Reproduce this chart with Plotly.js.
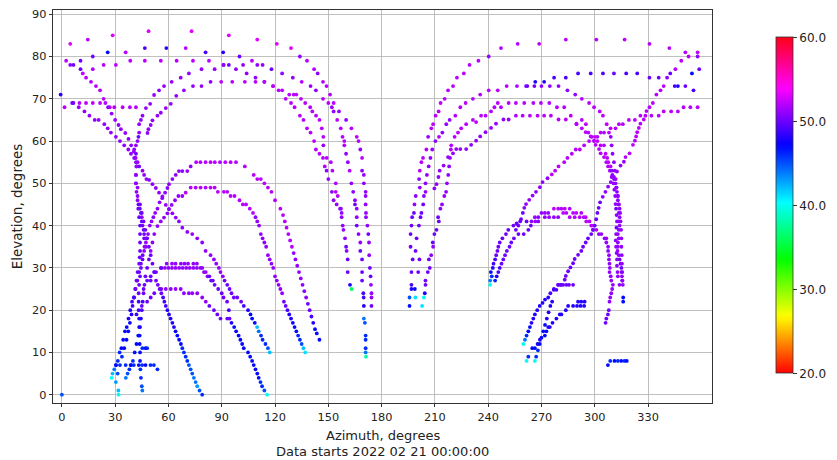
<!DOCTYPE html>
<html><head><meta charset="utf-8">
<script src="https://cdn.plot.ly/plotly-3.0.1.min.js"></script>
<style>html,body{margin:0;padding:0;background:#fff}#chart{width:837px;height:460px}</style>
</head><body><div id="chart"></div>
<script>
// Each point: [azimuth deg, elevation deg, SNR]
const tkTop = [[4.7,83,53],[14.6,84,52],[28.6,85,53],[48.8,86,53],[73,86,53],[17.4,80,50],[25.8,81,47],[35.9,81,52],[46.7,82,49],[58.8,82,48],[69.7,82,52],[80.9,81,49],[90.8,81,48],[94,85,53],[100,80,50],[-0.7,71,48],[0,0,45]];
const tk01 = [[2.4,79,52],[4.7,78,51],[6.5,78,50],[10.5,79,50],[17.4,77,52],[23.5,78,52],[30.4,78,52],[38.5,79,52],[46.7,79,52],[55.7,79,52],[64.6,79,52],[73.8,79,52],[82.8,79,52],[91,78,50],[94,78,50],[102,78,51],[107,79,52],[110,78,51],[113,78,51],[118,77,50],[124,76,51],[130,75,51],[135,74,52],[140,73,51],[143,72,51],[147,70,52],[150,69,52],[152,68,51],[153,67,51],[155,65,52],[157,63,52],[158,61,52],[159,60,52],[159,59,52],[160,57,51],[161,55,51],[162,53,52],[163,50,51],[164,48,51],[165,46,51],[165,45,50],[166,44,51],[166,42,51],[166,40,50],[167,38,51],[168,36,51],[168,34,50],[169,32,50],[169,29,50],[169,27,50],[169.7,24,49],[169.9,23,49],[170,21,48],[170,18,44],[170.6,17,45],[171,14,46],[171,13,46],[171,11,46],[171,10,44],[171.2,9,38]];
const tk02 = [[45.3,1,44],[45,2,45],[44.5,4,46],[44.2,6,46],[44,8,47],[44,10,47],[43.8,12,47],[43.8,14,47],[43.5,16,47],[43.5,18,48],[43.2,20,49],[43.2,22,49],[43.2,24,50],[43.5,26,50],[44,28,50],[44.5,30,50],[45.4,32,50],[46.3,34,51],[47.3,35,51],[47.3,36,51],[46.3,37,50],[46.3,38,50],[46,39,50],[45.4,40,50],[45,41,50],[45,42,51],[44.5,43,50],[43.9,44,50],[43.1,45,50],[42.6,47,51],[42.6,49,51],[41.7,50,51],[41.7,52,51],[42,54,50],[42.6,55,51],[41.3,56,51],[41.7,57,50],[40.7,58,51],[41.7,59,51],[42.6,60,51],[43.1,61,50],[43.5,62,51],[43.5,64,51],[44.5,65,51],[45.4,66,51],[47.3,67.8,51],[49.7,68.8,51],[51.9,70.9,51],[54.7,72,51],[57.5,73,51],[61.8,74,51],[66.9,75,51],[71.5,76,51],[78.6,77,51],[86,77,51],[91,78,51],[98,77,51],[104,76,51],[109,75,51],[114,74,50],[118.8,73,52],[122,72,52],[126,70,52],[129,69,52],[131,68,52],[134,66,52],[136,65,52],[138,63,52],[140,62,52],[142,60,52],[143,58,52],[145,57,52],[147,56,52],[148,54,52],[149,53,51],[150,51,51],[152,48,51],[153,46,51],[154.7,45,51],[156.6,44,51],[157.5,42,51],[158.1,40,51],[158.5,39,51],[159.4,37,51],[160,35,50],[160.3,34,51],[160.9,32,50],[160.9,29,50],[162.2,26,48],[163.1,25,36]];
const tk03 = [[110,84,53],[121,83,53],[129,82,53],[134,80,51],[138,79,52],[142,77,52],[144,76,51],[147,74,52],[149,73,52],[151,71,52],[153,69,52],[156,67,51],[160,65,51],[163,63,52],[166,61,52],[167,60,52],[168,58,51],[169,56,52],[169,53,51],[170,52,51],[170,50,51],[171,48,51],[171,47,51],[171,45,51],[171.2,43,51],[171.2,42,51],[172,40,51],[172.5,38,50],[172.9,36,51],[173,33,51],[173.4,30,50],[173.8,28,50],[174,26,51],[174.3,24,51],[174.3,23,51],[174.3,21,50]];
const tk04 = [[48.2,61.9,51],[48.7,62.8,51],[50,63.8,51],[51,64.9,51],[53.8,66,51],[55.7,66.7,51],[58.5,67.8,51],[61.3,68.8,51],[64.4,70.7,51],[68.7,72,51],[73.8,73,51],[78.6,73,51],[83.7,74,51],[89.7,74,52],[95.9,74,52],[103,74,52],[109,74,52],[114,74,52],[119,73,52],[124,72,52],[128,71,52],[130.5,71,52],[132,71,52],[134.6,70,52],[137,69,52],[139.8,68,52],[141,67,52],[143.1,66,52],[145,65,52],[146.3,63,52],[147.2,61,52],[147.2,59,51],[149.1,56,52],[151.4,55,52],[152.3,53,52],[154.2,50,52],[154.2,48,52],[155.3,47,52],[157.1,44,51],[157.5,43,51]];
const tk05 = [[9.5,68,51],[12.7,67,51],[15.5,66,51],[18.5,65,51],[20.7,65,51],[23.9,64,51],[25.8,63,51],[27.6,62,51],[30.4,61,51],[32.7,60,51],[35.1,59,51],[37.4,58,51],[38.9,57,51],[40.7,56,51],[41.7,55,51],[43.5,54,50],[45.4,53,51],[46.3,52,51],[47.6,51,51],[49.1,50.8,51],[51,49.8,51],[52.9,48.9,51],[54.7,47.8,51],[56.6,46.9,51],[58.5,44.9,51],[60.3,43.9,51],[62.2,42.9,51],[64.1,41.9,51],[65.9,41,51],[67.8,39.5,51],[70.6,38.5,51],[73.4,38,51],[76.2,37,51],[79,36,51],[80.9,34,51],[83.7,33,51],[85.6,32,51],[86.9,31,51],[88.4,30,51],[89.3,29,51],[90.6,28,51],[91.6,27,50],[93.1,26,50],[94.4,25,50],[95.5,24,50],[96.8,23,50],[98.7,23,50],[100.9,22,50],[102.4,21,49],[104.8,20,48],[106.2,19,47],[107.1,18,47],[108.6,17,47],[109.9,16,42],[110.8,15,44],[112.1,14,46],[113,13,46],[114.6,12,46],[116,11,45],[117,10,42]];
const tk06 = [[1.5,68,52],[5.8,69,50],[6.5,69,50],[9.9,69,52],[13.6,69,52],[17.4,69,52],[21.5,69,52],[24.5,69,52],[27,68,52],[29.5,68,52],[34.2,68,52],[38.3,68,52],[41.7,68,52]];
const tk07 = [[10.5,77,50],[11.8,76,52],[13.6,75,52],[16.4,74,52],[19.2,73,52],[21.5,72,52],[23.5,70,52],[26,68,51],[28,66.5,51],[30,65,51],[31.9,63.8,51],[33.2,62.8,51],[35.7,61.9,51],[37.5,60.5,51],[39,59,51],[40.5,57.5,51],[41.5,56,51],[42,54,51],[41.7,52,51],[41.7,50,51],[42,48,51],[42.6,46,51],[43,44,50],[43.5,42,50],[44,40,50],[44,38,50],[44,36,50],[44,34,50],[43.8,32.5,50],[43.5,31,50],[42.6,29,50],[42,27,50],[41.3,25,50],[40.7,23,50],[39.8,21,49],[39.2,19,48],[38.3,17,47],[37.4,15,47],[36.4,13,47],[35.1,11,47],[33.8,9,46],[32.7,7,46],[31.4,5,45],[30.4,3,43],[31.8,1,42],[31.9,0,40]];
const tk09 = [[28,4,40],[28.5,5,42],[29.5,6,44],[30.5,7,46],[31.5,8,46],[32.5,10,46],[33.5,11,47],[34.5,13,47],[35.5,15,47],[36.5,16,47],[37.5,18,48],[38.5,20,48],[39.5,22,49],[40.5,23,49],[41.5,25,50],[42.5,27,50],[43.5,29,50],[44.5,31,50],[45.5,33,50],[46.5,35,51],[47.5,37,51],[48.5,38,51],[49.5,40,51],[50.5,41,51],[51.5,42,51],[52.5,43,51],[53.8,44,51],[55,45.5,51],[56.5,46.5,51],[58.1,47.8,51],[59.4,48.9,51],[60.3,49.8,51],[62.2,51,51],[64.1,52,51],[65.9,52.9,51],[67.8,52.9,51],[70.6,52.9,51],[72.5,54,51],[75.6,55,52],[78,55,52],[80.9,55,52],[83.7,55,52],[86.1,55,52],[89,55,52],[92,55,52],[95,55,52],[98,55,52],[103,54,52],[108,52,52],[110,51,52],[112,51,52],[114,50,52],[116,49,52],[118,48,52],[120,46,52],[123,44,52],[124.5,42.5,52],[125.5,41,52],[126.5,39.5,52],[127.5,38,52],[128.5,36.5,52],[129.5,35,52],[130.5,33.5,51],[131.5,32,51],[132.5,30.5,51],[133.5,29,51],[134.5,27.5,51],[135.5,26,51],[136.5,24.5,51],[137.5,23,51],[138.5,21.5,50],[139.5,20,50],[140.5,18.5,49],[141.5,17,48],[142.5,15.5,47],[143.5,14.5,47],[145,13,47]];
const tk10 = [[36,4,44],[37,5,45],[38,6,46],[39,7,46],[40,8,46],[41,10,47],[42,12,47],[43,14,47],[44,16,48],[44.5,18,48],[45,20,49],[45.5,22,49],[46,24,50],[46.5,26,50],[47,28,50],[48,30,50],[49,32,50],[50,34,51],[51,36,51],[52,38,51],[53.8,39.9,51],[55.7,41,51],[57.5,41.9,51],[59.4,42.9,51],[60.3,43.9,51],[61.8,44.9,51],[63.7,46,51],[65.6,47,51],[67.8,47,51],[69.7,47.8,52],[72.5,49,52],[75.3,49,52],[78.1,49,52],[80.9,49,52],[83.7,49,52],[86,49,52],[87.8,48,52],[91.2,48,52],[93.1,48,52],[95,47,52],[97.2,47,52],[100,46,52],[101.9,45,52],[103.7,45,52],[105.8,44,52],[107.6,43,52],[109,42,51],[110,41,51],[111,40,51],[112,38,51],[113,37,51],[114,36,51],[115,35,51],[116,33,51],[117,32,51],[118,31,51],[119,30,51],[120,28,51],[121,27,51],[122,26,51],[123,25,51],[124,24,51],[125,22,50],[126,21,50],[127,20,49],[128,19,48],[129,18,48],[130,17,47],[131,16,47],[132,15,47],[133,14,46],[134,13,46],[135,12,45],[136,11,42],[137,10,41]];
const tk11 = [[46,25,50],[48,27,50],[50,28,50],[52,29,50],[55.7,30,51],[58,30,51],[60,30,51],[62,30,51],[64,30,51],[66,30,51],[68,30,51],[70,30,51],[72,30,51],[74,30,51],[76,30,51],[78,30,51],[80,29,51],[82,28,51],[84,27,50],[86,26,50],[88,25,50],[90,24,50],[91,23,50],[93,22,50],[94,20,49],[95.5,17,48],[97,16,47],[98.1,15,47],[99.5,14,47],[100.5,13,47],[101.5,12,47],[102.4,11,47],[104.8,10,47],[106,9,47],[107.1,8,47],[108,7,47],[109,6,47],[110,5,47],[110.8,4,47],[111.8,3,46],[112.7,2,46],[114,1,45],[115.5,0,40]];
const tk12 = [[50,27,50],[53,29,50],[56,30,50],[59,31,51],[62,31,51],[64,31,51],[67,31,51],[69,31,51],[71,31,51],[74,31,51],[76,31,51],[79,30,51],[81,29,51],[83,28,50],[85,27,50]];
const tk13 = [[42,19,49],[45,21,50],[48,22,50],[50,23,50],[52,24,50],[56,25,51],[58.5,25,51],[61.3,25,51],[64,25,51],[66.9,25,51],[68.7,24,51],[71.5,24,51],[73.4,24,51],[76.2,24,51],[79,23,51],[81,22,51],[83,21,50],[85.6,20,50],[87.5,19,50],[89.3,18,50],[93.1,18,50],[94.4,18,50]];
const tk14 = [[44,45,50],[45,43,50],[46,41,50],[47,39,50],[48,37,50],[49,35,50],[50,33,50],[51,31,50],[52,29,50],[53,27,50],[54,26,50],[55,25,50],[56,24,50],[57,23,49],[57.7,22,49],[58.5,21,49],[59.4,20,48],[60.3,19,48],[61.2,18,48],[62.2,17,48],[63.1,16,48],[64,15,47],[65,14,47],[66,13,47],[67,12,47],[67.8,11,46],[68.7,10,46],[69.7,9,46],[70.6,8,46],[71.5,7,45],[72.5,6,45],[73.4,5,45],[74.3,4,44],[75.3,3,44],[76.2,2,43],[77.5,1,45],[79,0,46]];
const tkRow7 = [[30.4,7,47],[35.9,7,46],[38.7,7,47],[40.5,7,46],[43.3,7,47],[45.2,7,46],[47.1,7,47],[49.9,7,46],[51.8,7,46],[53.8,6,46],[45.3,11,46],[47.1,11,47],[48,11,46]];

const tr01 = [[195.7,21,47],[195.7,23,45],[196.8,25,48],[196.8,26,49],[196.8,29,50],[197.5,32,50],[196.3,35,50],[196.3,38,50],[196.8,40,50],[197.2,42,50],[198.2,43,50],[198.5,45,51],[199.2,47,51],[201.5,49,51],[201.1,51,51],[201.5,53,52],[202.4,55,52],[203.3,56,52],[205.2,58,52],[206.2,61,51],[208,63,52],[209,64,52],[210.4,66,52],[212.1,67,52],[213.2,69,52],[215.5,70,52],[217.4,72,52],[220.2,73,52],[222.4,75,52],[226.3,76,52],[229.5,78,52],[234.5,79,52],[240.3,80,51],[247.2,82,52],[256.6,83,52],[268.7,83,52],[283.7,84,52],[300.9,84,52],[316.8,84,52],[330.8,83,52],[342,82,52],[351,81,52],[357.9,81,52],[357.9,80,51]];
const tr02 = [[202.8,21,41],[203.8,23,40],[199,23,41],[198.7,25,47],[200.6,29,50],[201.3,32,50],[199.1,34,50],[199.7,37,50],[201,40,50],[201.9,42,50],[202.4,43,50],[203.4,45,50],[203.8,47,51],[204.7,48,51],[204.7,50,51],[205.5,52,51],[206.5,54,51],[207.5,56,51],[208.5,58,51],[210.3,60,51],[212.3,61,52],[214.2,62,51],[216.4,64,51],[218.3,65,51],[221.5,66,52],[224.3,68,52],[227.3,69,52],[231.4,70,52],[235.5,71,52],[240.3,72,52],[245.4,72,52],[250.4,73,52],[256.2,73,52],[261.3,73,51],[266.5,74,48],[271.5,74,48],[277.1,75,49],[283.7,75,49],[290.6,76,49],[297.7,76,49],[304.6,76,49],[310.8,76,50],[317.7,76,49],[323.9,76,49],[330.8,75,50],[336,75,50],[340.7,75,51],[345,73,49],[346.8,73,48],[351,73,50],[355.6,72,49]];
const tr03 = [[204.3,24,48],[204.7,26,50],[204.7,27,50],[206,29,50],[207.1,30,50],[206.6,32,50],[207.9,33,51],[209,35,51],[208.8,36,50],[209.7,38,50],[210.9,39,50],[212.2,41,50],[211.8,42,50],[213.1,44,51],[214,45,51],[215.3,47,51],[216.3,48,51],[216.8,50,51],[217.5,52,51],[218,54,51],[218.5,56,51],[219,58,52],[219.2,59,52],[221.1,61,52],[223,62,52],[224.8,63,52],[227.6,64,52],[231.4,65,52],[233.2,64.5,52],[236,66,52],[238.5,66,52],[241.6,67,52],[243.5,68,52],[245.4,69,52],[247.2,68,52],[251.5,69,52],[255.6,69,52],[260.3,69,52],[265.4,69,52],[269.7,69,52],[274.4,69,52],[278.7,68,52],[282.8,68,52],[286.5,66,52],[289.7,64,52],[292.7,65,52],[295,64,52],[296.4,62,52],[298.3,61,52],[300.1,61,52],[301.5,60,52],[303.3,59,52],[305.2,59,52],[306.1,57,52],[307,56,52],[307.6,55,52],[308.9,54,52],[309.5,53,51],[309.9,52,51],[310.8,51,51],[311.7,50,51],[312,49,51],[312.5,48,51],[313,47,51],[313,46,51],[313.5,45,51],[314,44,51],[313.5,43,51],[314,42,51],[313.5,41,51],[314,40,51],[313.5,39,51],[313,38,51],[313.5,37,51],[313,36,51],[313,35,51],[312.8,34,51],[313.5,33,51],[314,32,50],[314.5,31,50],[315,30,50],[315,29,50],[315.3,28,51],[315.5,27,51],[315.8,26,51],[316,23,47],[316,22,47]];
const tr04 = [[209.7,48.8,51],[210.9,49.8,51],[212,51.5,51],[212.7,53,51],[214.9,54.2,51],[217.4,56.2,51],[220.2,57.1,51],[222,58.1,51],[224.3,58.1,51],[227.6,58.1,51],[230.4,59.1,51],[233.2,60.1,51],[235.5,61.1,51],[238.5,62.1,51],[241.6,63.1,51],[244.4,64.1,51],[248.6,65.1,51],[251.5,65.1,51],[255.6,66,52],[259.4,66,52],[263.5,66,52],[267.8,66,52],[271.5,66,52],[275.3,66,52],[279.6,65.1,52],[283.7,65.1,52],[289.7,64.1,52],[292.7,63,52],[294.9,62.1,52],[297.7,61.1,52],[299.6,60.1,52],[300.5,59.1,52],[302.4,58.1,52],[303.3,57.1,52],[305.2,56.2,52],[306.5,55,52],[307.5,54,52],[308.5,53,51],[309.5,51.5,51],[310.5,50,51],[311,48.5,51],[311.5,47,51],[311.7,45.1,51],[312,44,50],[312.3,42.5,51],[312.5,41,51],[312.2,39.5,50],[312,38,51],[311.8,36.5,51],[312,35,51],[312.3,33.5,51],[312.5,32,51],[312.5,30.5,51],[312.8,29,51],[313,28,51],[313.9,26,51]];
const trF = [[262,73,50],[266,73,50],[270,73,51],[274.7,73,51],[279.6,73,51],[284.6,72,51],[289,71,51],[292.7,70,52],[296.8,69,52],[299.6,68,52],[302.8,67,52],[304.6,66,52],[306.7,64,52],[308.9,63,52],[309,61,51],[309.5,59,51],[310,57,51],[310.8,55,51],[311.2,53,51],[311.8,51,51],[312.3,49,51],[313,47,51],[313.5,45,51],[314.3,43,51],[314.5,41,51],[314.8,39,51],[315,37,51],[315,35,51],[315.2,33,51],[315.3,31,51],[315.5,29,51],[315.5,27,51]];
const trA = [[241.1,26,40],[241.1,27,44],[242,28,46],[241.5,29,47],[242.6,30,48],[243,31,49],[243.9,32,49],[244.5,33,50],[245.2,34,50],[245.7,35,50],[246.5,36,50],[248,37,50],[250,38,50],[251.3,39,50],[254.2,40,50],[256,40.5,50],[258,41,50],[261.6,41,50],[264.4,41,51],[266.3,42,51],[268.2,42,51],[270,43,51],[271.9,43,51],[273.8,43,51],[277,44,52],[279.4,44,52],[281.2,44,52],[283.1,44,52],[285.9,44,52],[287.8,43,52],[289.6,43,52],[292.4,43,52],[294.9,42,52],[297,41,52],[299.4,40,52],[300.9,39,52],[303.7,38,51],[306.5,37,51],[307.5,35,51],[308,33,51],[308.3,31,51],[308.3,29,51],[309.3,27,51],[310.2,26,51],[309.8,25,51],[309.3,24,51],[308.7,23,51],[308.3,22,51],[307.9,20,50],[307.4,19,50],[306.5,18,50],[306.1,17,50]];
const trB = [[243.9,27,46],[244.8,28,48],[245.7,29,49],[246.5,30,49],[247.5,31,50],[248.5,32,50],[249.5,33,50],[250.5,34,50],[252,35,50],[253,36,50],[254.5,37,50],[257,38,50],[260,38,50],[262.6,39,50],[264,40,50],[266.5,41,51],[268.2,41,51],[271.9,42,51],[274.3,42,51],[277,42,51],[279.4,42,51],[282.2,43,52],[284,43,52],[285.9,42,52],[288.7,42,52],[291.5,42,52],[293.8,42,52],[295.2,41,52],[298,40,52],[299,39,52],[302.3,38,51],[305.5,37,51],[306.5,36,51],[307.5,34,51],[308,32,51],[308.5,30,51],[309,28,51]];
const trG = [[255.6,39,50],[257,40,50],[258.5,41.5,50],[259.5,43,50],[260.3,44.2,51],[261.3,45.1,51],[263.1,46.1,51],[265,47.1,51],[266.9,48,51],[269.1,49.1,51],[270.6,50.3,51],[273.4,51.2,51],[275.8,52.1,52],[277.7,53,52],[279.6,54,52],[282.8,55,52],[284.6,56,52],[287.1,57,52],[289.3,58,52],[291.6,58,52],[294,59,52],[296.8,60,52],[299.6,60,52],[301.5,61,52],[303.3,62,52],[305.2,62,52],[308,62,52],[311.7,63,52],[313.6,64,52],[315.8,64,52],[319.2,65,52],[322.6,65,52],[325.7,66,52],[328.5,66,52],[331.9,66,52],[336,66,52],[338.8,67,52],[343,67,52],[346.8,67,52],[350,68,52],[353.8,68,52],[357.9,68,52]];
const trX = [[259.8,12,40],[260.7,13,44],[261.6,14,46],[262.6,15,47],[263.5,16,47],[264.4,17,48],[265.4,18,48],[266.3,19,48],[267.6,20,48],[269,21,48],[270.6,21.7,48],[272,22.5,48],[273.8,23,48],[275,24,49],[277,25,49],[279.4,26,49],[281.2,26,50],[283.1,27.2,50],[283.7,28.1,50],[285,29.2,50],[286.3,30.1,50],[287.8,31.1,50],[288.7,32.1,50],[290.6,33.1,50],[292.4,34,50],[293.4,35,50],[294.9,36,50],[296.2,37,50],[298,38,50],[299,39,50],[300,40,50],[300.8,41.5,50],[301.5,43,50],[302.2,44.2,50],[303,45.5,50],[304.5,46.8,51],[306,48,51],[307.5,49.2,51],[309,50.3,51],[310.8,51.5,51],[312.5,52.8,51],[314.5,54.2,51],[316.4,55.1,51],[317.3,56.2,52],[319.6,57.1,52],[321.5,59.1,52],[322.6,60.1,52],[323.3,61.1,52],[323.9,62.1,52],[324.8,63.1,52],[325.7,64.1,52],[327.6,65.1,52],[329.1,67.1,52],[330.8,68,52],[332.7,69,52],[334.7,71,52],[337,72,52],[338.8,73,52],[342.5,76,50],[345.4,77,52],[348.7,79,52],[352.8,80,52]];
const trC = [[261.6,8,40],[262.6,9,46],[264.8,11,47],[266.3,11,47],[267.8,12,48],[269.1,13,48],[271.9,14,47],[272.8,15,47],[273.8,16,48],[274.7,16,48],[276.2,17,48],[278.4,18,48],[280.3,19,48],[281.2,19,48],[283.7,20,48],[285,21,48],[287.8,21,48],[290,21,48],[292,21,48],[294,21,48],[290.6,22,48],[292.4,22,48],[294.3,22,48]];
const trD = [[266.3,8,40],[267,9,46],[268,10.5,46],[269,12,47],[270,13.5,47],[271,15,47],[272,16.5,47],[273,18,48],[274,19.5,48],[275,21,48],[276,22,48],[276.9,24.8,49],[278.4,24.8,49],[279.4,26,50],[280.7,26,50],[282.2,26,50],[284,26,50],[285.5,26,50],[287.8,26,50]];
const trH = [[354.7,76,47],[358.8,77,50],[307.4,7,47],[308.7,8,46],[311.1,8,47],[313,8,46],[314.9,8,47],[316.7,8,46],[318,8,47]];

const colorbarTicks = [20, 30, 40, 50, 60];
const colorbarLabels = ['20.0', '30.0', '40.0', '50.0', '60.0'];
const azTicks = [0, 30, 60, 90, 120, 150, 180, 210, 240, 270, 300, 330];
const elTicks = [0, 10, 20, 30, 40, 50, 60, 70, 80, 90];
const xTitle = 'Azimuth, degrees';
const xSubtitle = 'Data starts 2022 02 21 00:00:00';
const yTitle = 'Elevation, degrees';

const tracks = [tkTop, tk01, tk02, tk03, tk04, tk05, tk06, tk07, tk09, tk10, tk11, tk12, tk13, tk14, tkRow7,
  tr01, tr02, tr03, tr04, trF, trA, trB, trG, trX, trC, trD, trH];
const az = [], el = [], snr = [];
tracks.forEach(t => t.forEach(p => { az.push(p[0]); el.push(p[1]); snr.push(p[2]); }));

// matplotlib 'hsv' colormap
const hsv = [[0,'rgb(255,0,0)'],[0.15873,'rgb(255,239,0)'],[0.174603,'rgb(247,255,0)'],[0.333333,'rgb(8,255,0)'],[0.349206,'rgb(0,255,16)'],[0.507937,'rgb(0,255,255)'],[0.666667,'rgb(0,16,255)'],[0.68254,'rgb(8,0,255)'],[0.84127,'rgb(247,0,255)'],[0.857143,'rgb(255,0,239)'],[1,'rgb(255,0,24)']];

const F = 'DejaVu Sans, sans-serif';
const TC = '#222';
const trace = {
  type: 'scatter', mode: 'markers', x: az, y: el, hoverinfo: 'skip',
  marker: { size: 3.8, color: snr, cmin: 20, cmax: 60, colorscale: hsv, line: {width: 0},
    showscale: true,
    colorbar: { thickness: 17, thicknessmode: 'pixels', len: 336/393, lenmode: 'fraction',
      x: (779-53)/662, xref: 'paper', xanchor: 'left', y: (403-205.3)/393, yref: 'paper', yanchor: 'middle',
      xpad: 0, ypad: 0, outlinewidth: 0.8, outlinecolor: '#333',
      ticks: 'outside', ticklen: 4, tickwidth: 0.8, tickcolor: '#000',
      tickvals: colorbarTicks, ticktext: colorbarLabels, tickfont: {family: F, size: 12, color: TC} } }
};
const layout = {
  width: 837, height: 460, margin: {l: 53, r: 122, t: 10, b: 57},
  paper_bgcolor: '#fff', plot_bgcolor: '#fff', showlegend: false,
  font: {family: F, size: 12, color: TC},
  xaxis: { range: [-5, 366], tickvals: azTicks, ticks: 'outside', ticklen: 3.5, tickwidth: 0.8, tickcolor: '#000',
    showgrid: true, gridcolor: '#b0b0b0', gridwidth: 0.8, zeroline: false,
    showline: true, linecolor: '#000', linewidth: 0.8, mirror: true, automargin: false,
    tickfont: {family: F, size: 11.3, color: TC} },
  yaxis: { range: [-1.96, 91.0], tickvals: elTicks, ticks: 'outside', ticklen: 3.5, tickwidth: 0.8, tickcolor: '#000',
    showgrid: true, gridcolor: '#b0b0b0', gridwidth: 0.8, zeroline: false,
    showline: true, linecolor: '#000', linewidth: 0.8, mirror: true, automargin: false,
    tickfont: {family: F, size: 11.3, color: TC},
    title: {text: yTitle, font: {family: F, size: 13.5, color: TC}, standoff: 6} },
  annotations: [
    {text: xTitle, xref: 'paper', yref: 'paper', x: 0.5, y: (403-435.5)/393, xanchor: 'center', yanchor: 'middle', showarrow: false, borderpad: 0, font: {family: F, size: 13, color: TC}},
    {text: xSubtitle, xref: 'paper', yref: 'paper', x: 0.5, y: (403-451.5)/393, xanchor: 'center', yanchor: 'middle', showarrow: false, borderpad: 0, font: {family: F, size: 13, color: TC}}
  ]
};
Plotly.newPlot('chart', [trace], layout, {staticPlot: true, displayModeBar: false});
</script></body></html>
